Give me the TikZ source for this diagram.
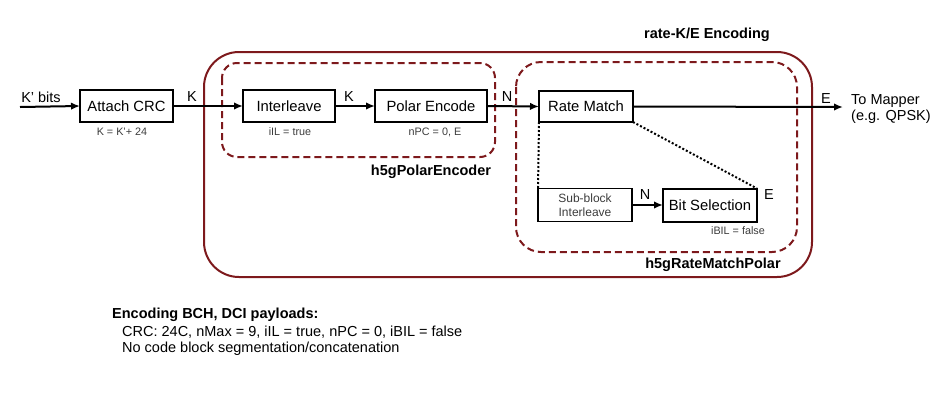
\documentclass[tikz,border=0pt]{standalone}
\usepackage{fontspec}
\setmainfont{Liberation Sans}
\usetikzlibrary{arrows.meta}
\definecolor{maroonc}{RGB}{125,25,28}
\definecolor{graytxt}{RGB}{60,60,60}
\tikzset{
  blk/.style={draw=black, line width=2pt, rectangle, inner sep=0pt, outer sep=0pt, font=\fontsize{14.8}{16}\selectfont},
  blksm/.style={draw=black, line width=1.5pt, rectangle, inner sep=0pt, outer sep=0pt},
  arr/.style={line width=2pt, -{Latex[length=9pt,width=7.5pt]}},
  lbl/.style={font=\fontsize{14.5}{16}\selectfont, inner sep=0pt},
  small/.style={font=\fontsize{10.8}{12}\selectfont, text=graytxt, inner sep=0pt},
  title/.style={font=\fontsize{14.5}{16}\selectfont\bfseries, inner sep=0pt},
  outerbox/.style={draw=maroonc, line width=2pt},
  dashbox/.style={draw=maroonc, line width=2pt, dash pattern=on 7pt off 4pt},
  dots/.style={line width=2pt, dash pattern=on 2pt off 2pt}
}
\begin{document}
\begin{tikzpicture}[x=1pt,y=-1pt]
\useasboundingbox (0,0) rectangle (937,408);
% containers
\draw[outerbox, rounded corners=35pt] (204,52) rectangle (812,277);
\draw[dashbox, rounded corners=15pt] (222,63) rectangle (495,157);
\draw[dashbox, rounded corners=25pt] (516,62) rectangle (797,252);
% blocks
\node[blk, minimum width=93pt, minimum height=32pt] (crc) at (126.5,106) {Attach CRC};
\node[blk, minimum width=92pt, minimum height=32pt] (il) at (289,106) {Interleave};
\node[blk, minimum width=112pt, minimum height=32pt] (pe) at (431,106) {Polar Encode};
\node[blk, minimum width=94pt, minimum height=31pt] (rm) at (586,106.5) {Rate Match};
\node[blksm, minimum width=94pt, minimum height=33pt, align=center, font=\fontsize{12}{13.5}\selectfont, text=graytxt] (sb) at (585,205) {Sub-block\\Interleave};
\node[blk, minimum width=94pt, minimum height=33pt] (bs) at (710,205) {Bit Selection};
% free ends
\coordinate (kin) at (20,107);
\coordinate (out) at (843,107);
% connectors
\draw[arr] (kin) -- (crc.west);
\draw[arr] (crc.east) -- (il.west);
\draw[arr] (il.east) -- (pe.west);
\draw[arr] (pe.east) -- (rm.west);
\draw[arr] (rm.east) -- (out);
\draw[arr] (sb.east) -- (bs.west);
\draw[dots] (rm.south west) -- (sb.north west);
\draw[dots] (rm.south east) -- (bs.north east);
% labels
\node[lbl] (lkb) at (41,97) {K’ bits};
\node[lbl] (lk1) at (192,97) {K};
\node[lbl] (lk2) at (349,97) {K};
\node[lbl] (ln1) at (507,97) {N};
\node[lbl] (le1) at (826,99) {E};
\node[lbl, align=left, anchor=west] (tm) at (851,109) {To Mapper\\(e.g. QPSK)};
\node[lbl] (ln2) at (645,195) {N};
\node[lbl] (le2) at (769,195) {E};
\node[small] (s1) at (122,132) {K = K’+ 24};
\node[small] (s2) at (290,132) {iIL = true};
\node[small] (s3) at (435,132) {nPC = 0, E};
\node[small] (s4) at (738,231) {iBIL = false};
\node[title] (t1) at (707,35) {rate-K/E Encoding};
\node[title] (t2) at (431,172) {h5gPolarEncoder};
\node[title] (t3) at (713,265) {h5gRateMatchPolar};
\node[title, anchor=west] (n1) at (112,315) {Encoding BCH, DCI payloads:};
\node[lbl, anchor=west] (n2) at (122,332) {CRC: 24C, nMax = 9, iIL = true, nPC = 0, iBIL = false};
\node[lbl, anchor=west] (n3) at (122,349) {No code block segmentation/concatenation};
\end{tikzpicture}
\end{document}
